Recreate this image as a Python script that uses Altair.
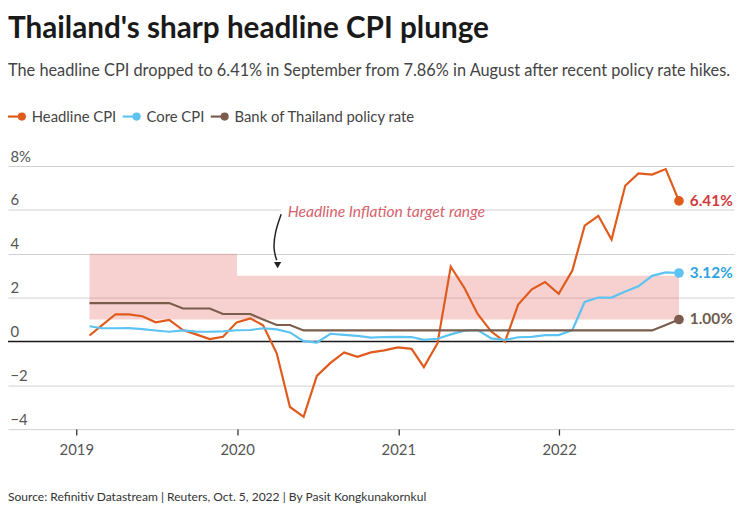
import altair as alt
import pandas as pd

# ---------------- data ----------------
title_text = "Thailand's sharp headline CPI plunge"
subtitle_text = ("The headline CPI dropped to 6.41% in September from 7.86% in August "
                 "after recent policy rate hikes.")
source_text = "Source: Refinitiv Datastream | Reuters, Oct. 5, 2022 | By Pasit Kongkunakornkul"
annotation_text = "Headline Inflation target range"

series_names = ["Headline CPI", "Core CPI", "Bank of Thailand policy rate"]
line_colors = ["#e05a1c", "#5cc3f2", "#7b5d4d"]
label_colors = ["#d03a3e", "#2ea3de", "#6e5a4e"]

# monthly observations, Jan 2019 .. Sep 2022 (plotted at month end)
months = [d.strftime("%Y-%m-%d") for d in
          (pd.date_range("2019-01-01", periods=45, freq="MS") + pd.offsets.MonthEnd(0))]

headline = [0.27, 0.73, 1.24, 1.23, 1.15, 0.87, 0.98, 0.52, 0.32, 0.11, 0.21, 0.87,
            1.05, 0.74, -0.54, -2.99, -3.44, -1.57, -0.98, -0.50, -0.70, -0.50, -0.41, -0.27,
            -0.34, -1.17, -0.08, 3.41, 2.44, 1.25, 0.45, -0.02, 1.68, 2.38, 2.71, 2.17,
            3.23, 5.28, 5.73, 4.65, 7.10, 7.66, 7.61, 7.86, 6.41]
core = [0.69, 0.60, 0.60, 0.61, 0.56, 0.50, 0.44, 0.50, 0.45, 0.44, 0.46, 0.51,
        0.52, 0.60, 0.55, 0.41, 0.01, -0.05, 0.35, 0.30, 0.25, 0.17, 0.20, 0.21,
        0.20, 0.07, 0.12, 0.32, 0.49, 0.52, 0.14, 0.07, 0.19, 0.21, 0.29, 0.29,
        0.52, 1.80, 2.00, 2.00, 2.28, 2.51, 2.99, 3.15, 3.12]
policy = [1.75, 1.75, 1.75, 1.75, 1.75, 1.75, 1.75, 1.50, 1.50, 1.50, 1.25, 1.25,
          1.25, 1.00, 0.75, 0.75, 0.50, 0.50, 0.50, 0.50, 0.50, 0.50, 0.50, 0.50,
          0.50, 0.50, 0.50, 0.50, 0.50, 0.50, 0.50, 0.50, 0.50, 0.50, 0.50, 0.50,
          0.50, 0.50, 0.50, 0.50, 0.50, 0.50, 0.50, 0.75, 1.00]

# inflation target band
band_start = ["2019-01-31", "2020-01-01"]
band_end = ["2020-01-01", "2022-09-30"]
band_low = [1, 1]
band_high = [4, 3]

# annotation arrow path
arrow_dates = ["2020-04-10", "2020-03-27", "2020-03-23", "2020-03-31"]
arrow_vals = [5.80, 5.00, 4.20, 3.70]
arrow_head_date = ["2020-04-02"]
arrow_head_val = [3.48]

y_ticks = [-4, -2, 0, 2, 4, 6, 8]
x_tick_years = [2019, 2020, 2021, 2022]

# ---------------- tables ----------------
rows = []
for name, vals in zip(series_names, [headline, core, policy]):
    for d, v in zip(months, vals):
        rows.append({"date": d, "value": v, "series": name})
df = pd.DataFrame(rows)

last = pd.DataFrame({
    "date": [months[-1]] * 3,
    "value": [headline[-1], core[-1], policy[-1]],
    "series": series_names,
})
last["label"] = [f"{v:.2f}%" for v in last["value"]]

band_df = pd.DataFrame({"start": band_start, "end": band_end, "low": band_low, "high": band_high})
arrow_df = pd.DataFrame({"date": arrow_dates, "value": arrow_vals, "idx": list(range(len(arrow_dates)))})
head_df = pd.DataFrame({"date": arrow_head_date, "value": arrow_head_val})
ann_df = pd.DataFrame({"date": ["2020-04-25"], "value": [5.89], "text": [annotation_text],
                       "end": ["2021-07-10"], "low": [5.45], "high": [6.35],
                       "start": ["2020-04-10"]})
src_df = pd.DataFrame({"text": [source_text]})

FONT = "Lato"
W, H = 734, 266

x_scale = alt.Scale(domain=[alt.DateTime(year=2018, month=7, date=30),
                            alt.DateTime(year=2023, month=2, date=2)])
y_scale = alt.Scale(domain=[-4, 8], nice=False, zero=False)
color_scale = alt.Scale(domain=series_names, range=line_colors)

x_axis = alt.Axis(values=[alt.DateTime(year=y, month=1, date=1) for y in x_tick_years],
                  format="%Y", grid=False, domain=False, tickSize=6, tickColor="#333",
                  tickWidth=1.3, labelFontSize=15, labelFont=FONT, labelColor="#555",
                  labelPadding=8, title=None)
y_axis = alt.Axis(values=y_ticks, labelExpr="datum.value == 8 ? '8%' : datum.label",
                  domain=False, ticks=False, tickSize=0, labelAlign="left",
                  labelPadding=-2, labelBaseline="alphabetic", labelOffset=-5,
                  grid=True, gridColor="#d0d0d0", gridWidth=1, title=None,
                  labelFontSize=15, labelFont=FONT, labelColor="#555")

X = alt.X("date:T", scale=x_scale, axis=x_axis)
Y = alt.Y("value:Q", scale=y_scale, axis=y_axis)

band = alt.Chart(band_df).mark_rect(color="#e66c6c", opacity=0.32).encode(
    x=alt.X("start:T", scale=x_scale, axis=x_axis), x2="end:T",
    y=alt.Y("low:Q", scale=y_scale, axis=y_axis), y2="high:Q")

ann_bg = alt.Chart(ann_df).mark_rect(color="white").encode(
    x=alt.X("start:T", scale=x_scale, axis=x_axis), x2="end:T",
    y=alt.Y("low:Q", scale=y_scale, axis=y_axis), y2="high:Q")

zero = alt.Chart(pd.DataFrame({"value": [0]})).mark_rule(color="#1a1a1a", strokeWidth=1.5).encode(
    y=alt.Y("value:Q", scale=y_scale, axis=y_axis))

lines = alt.Chart(df).mark_line(strokeWidth=2.2).encode(
    x=X, y=Y,
    stroke=alt.Stroke("series:N", scale=color_scale, legend=None),
    order=alt.Order("date:T"))

dots = alt.Chart(last).mark_point(filled=True, size=95, opacity=1).encode(
    x=X, y=Y, color=alt.Color("series:N", scale=color_scale, legend=None))

end_labels = [
    alt.Chart(last[last["series"] == name]).mark_text(
        align="left", baseline="middle", dx=11, fontSize=15.5, fontWeight="bold",
        font=FONT, color=lc).encode(x=X, y=Y, text="label:N")
    for name, lc in zip(series_names, label_colors)
]

ann_text = alt.Chart(ann_df).mark_text(align="left", baseline="middle", fontSize=15.8,
                                       fontStyle="italic", font=FONT, color="#d4636d").encode(
    x=X, y=Y, text="text:N")

arrow = alt.Chart(arrow_df).mark_line(color="#222", strokeWidth=1.5, interpolate="basis").encode(
    x=X, y=Y, order="idx:Q")

arrow_head = alt.Chart(head_df).mark_point(shape="triangle-down", filled=True, size=55,
                                           color="#222", opacity=1).encode(x=X, y=Y)

source = alt.Chart(src_df).mark_text(align="left", baseline="middle", fontSize=12.2,
                                     font=FONT, color="#333").encode(
    text="text:N", x=alt.value(0), y=alt.value(H + 69))

# ---------------- legend (line + dot symbol, label) ----------------
LEG_Y = -50          # legend row centre, relative to plot top
leg_item_x = [0, 116, 205]   # left edge of each legend item
legend_layers = []
for name, col, lx in zip(series_names, line_colors, leg_item_x):
    ldf = pd.DataFrame({"series": [name]})
    legend_layers.append(alt.Chart(ldf).mark_rule(color=col, strokeWidth=2.2).encode(
        x=alt.value(lx), x2=alt.value(lx + 13), y=alt.value(LEG_Y)))
    legend_layers.append(alt.Chart(ldf).mark_point(filled=True, size=68, opacity=1,
                                                   color=col).encode(
        x=alt.value(lx + 14), y=alt.value(LEG_Y)))
    legend_layers.append(alt.Chart(ldf).mark_text(align="left", baseline="middle",
                                                  fontSize=15, font=FONT,
                                                  color="#444").encode(
        text="series:N", x=alt.value(lx + 24), y=alt.value(LEG_Y + 1)))

chart = alt.layer(band, ann_bg, zero, lines, dots, *end_labels, ann_text, arrow, arrow_head,
                  source, *legend_layers).properties(
    width=W, height=H,
    autosize=alt.AutoSizeParams(type="none"),
    padding={"left": 0, "top": 157, "right": 3, "bottom": 78},
    title=alt.TitleParams(text=title_text, subtitle=subtitle_text, anchor="start",
                          frame="group", font=FONT, fontSize=30, fontWeight="bold",
                          color="#1a1a1a", subtitleFont=FONT, subtitleFontSize=16.5,
                          subtitleColor="#444", subtitlePadding=20, offset=31),
).configure_view(stroke=None)

chart.save("out.html", embed_options={"renderer": "svg", "actions": False})
